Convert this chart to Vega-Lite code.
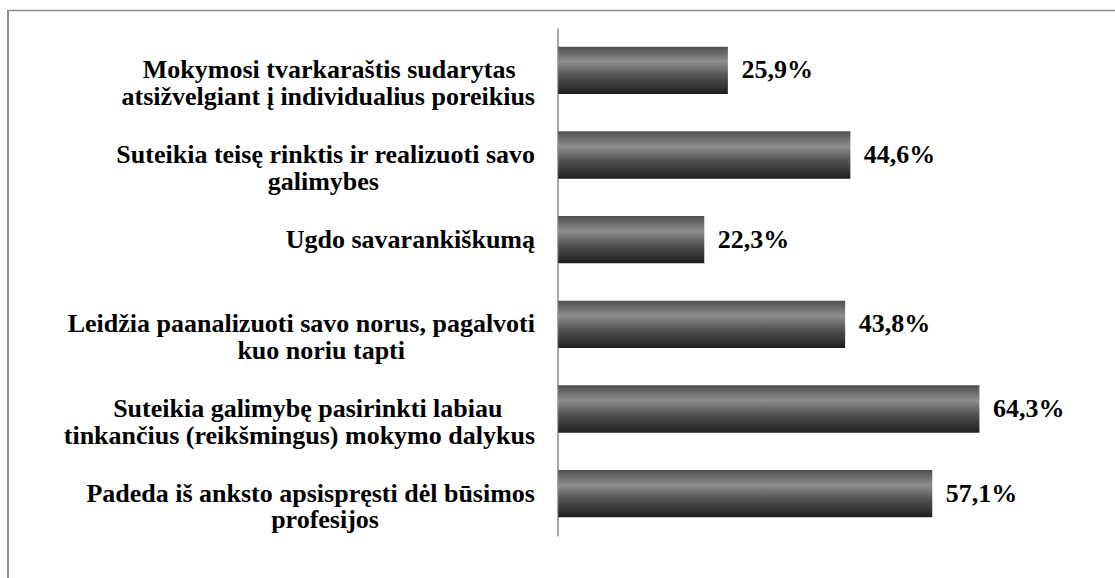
{
  "$schema": "https://vega.github.io/schema/vega-lite/v6.json",
  "autosize": {"type": "none"},
  "padding": {"left": 8, "top": 10, "right": 0, "bottom": 0},
  "width": 1107,
  "height": 568,
  "background": "white",
  "config": {
    "view": {"stroke": null},
    "locale": {"number": {"decimal": ",", "thousands": " ", "grouping": [3], "currency": ["", " €"]}}
  },
  "data": {
    "values": [
      {"category": "Mokymosi tvarkaraštis sudarytas\natsižvelgiant į individualius poreikius", "value": 0.259},
      {"category": "Suteikia teisę rinktis ir realizuoti savo\ngalimybes", "value": 0.446},
      {"category": "Ugdo savarankiškumą", "value": 0.223},
      {"category": "Leidžia paanalizuoti savo norus, pagalvoti\nkuo noriu tapti", "value": 0.438},
      {"category": "Suteikia galimybę pasirinkti labiau\ntinkančius (reikšmingus) mokymo dalykus", "value": 0.643},
      {"category": "Padeda iš anksto apsispręsti dėl būsimos\nprofesijos", "value": 0.571}
    ]
  },
  "encoding": {
    "x": {
      "field": "value",
      "type": "quantitative",
      "scale": {"domain": [-0.84, 0.85], "nice": false, "zero": false},
      "axis": {
        "orient": "top",
        "title": null,
        "labels": false,
        "ticks": false,
        "grid": false,
        "domain": true,
        "domainColor": "#8c8c8c",
        "domainWidth": 1.5
      }
    }
  },
  "layer": [
    {
      "mark": {"type": "rule", "color": "#8c8c8c", "strokeWidth": 1.5},
      "encoding": {"x": {"datum": -0.84}}
    },
    {
      "mark": {
        "type": "bar",
        "color": {
          "gradient": "linear",
          "x1": 0, "y1": 0, "x2": 0, "y2": 1,
          "stops": [
            {"offset": 0, "color": "#4e4e4e"},
            {"offset": 0.32, "color": "#8e8e8e"},
            {"offset": 0.6, "color": "#555555"},
            {"offset": 1, "color": "#1e1e1e"}
          ]
        }
      },
      "encoding": {
        "x2": {"datum": 0},
        "y": {
          "field": "category",
          "type": "nominal",
          "sort": null,
          "scale": {"range": [18, 526], "paddingInner": 0.44, "paddingOuter": 0.22},
          "axis": {
            "title": null,
            "orient": "left",
            "offset": -549.5,
            "ticks": false,
            "domainColor": "#a8a8a8",
            "domainWidth": 2,
            "labelPadding": 23,
            "labelFont": "Liberation Serif",
            "labelFontSize": 26,
            "labelFontWeight": "bold",
            "labelColor": "#000000",
            "labelLimit": 0,
            "labelLineHeight": 26.5,
            "labelExpr": "length(split(datum.label, '\\n')) < 2 ? datum.label : [pad(split(datum.label, '\\n')[0], length(split(datum.label, '\\n')[0]) + (split(datum.label, '\\n')[0] == 'Mokymosi tvarkaraštis sudarytas' ? 3 : split(datum.label, '\\n')[0] == 'Suteikia galimybę pasirinkti labiau' ? 5 : 0), '\u00a0') + '\u200b', pad(split(datum.label, '\\n')[1], length(split(datum.label, '\\n')[1]) + (split(datum.label, '\\n')[1] == 'galimybes' ? 24 : split(datum.label, '\\n')[1] == 'kuo noriu tapti' ? 20 : split(datum.label, '\\n')[1] == 'profesijos' ? 24 : 0), '\u00a0') + '\u200b']"
          }
        }
      }
    },
    {
      "mark": {
        "type": "text",
        "align": "left",
        "baseline": "middle",
        "dx": 13.5,
        "font": "Liberation Serif",
        "fontSize": 26,
        "fontWeight": "bold",
        "color": "#000000"
      },
      "encoding": {
        "y": {"field": "category", "type": "nominal", "sort": null},
        "text": {"field": "value", "type": "quantitative", "format": ".1%"}
      }
    }
  ]
}
